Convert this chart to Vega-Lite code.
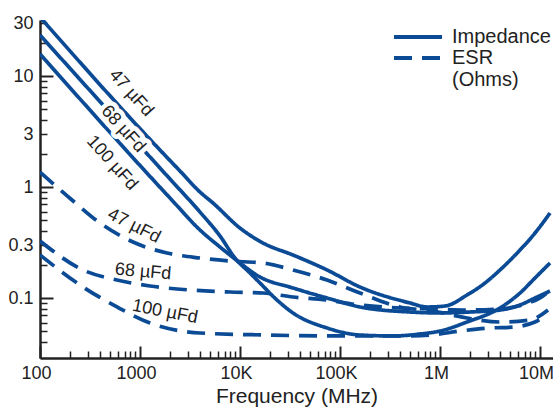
{
  "$schema": "https://vega.github.io/schema/vega-lite/v6.json",
  "width": 513,
  "height": 338,
  "autosize": {"type": "none"},
  "padding": {"left": 40, "top": 20, "right": 0, "bottom": 52},
  "background": "white",
  "config": {
    "view": {"stroke": null},
    "font": "Liberation Sans",
    "axis": {"labelFont": "Liberation Sans", "titleFont": "Liberation Sans", "grid": false},
    "legend": {"labelFont": "Liberation Sans"}
  },
  "datasets": {
    "curves": [
      {"series": "Z47", "type": "Impedance", "f": 100, "v": 34.0},
      {"series": "Z47", "type": "Impedance", "f": 1585, "v": 2.154},
      {"series": "Z47", "type": "Impedance", "f": 2512, "v": 1.394},
      {"series": "Z47", "type": "Impedance", "f": 3981, "v": 0.902},
      {"series": "Z47", "type": "Impedance", "f": 5370, "v": 0.718},
      {"series": "Z47", "type": "Impedance", "f": 10000, "v": 0.427},
      {"series": "Z47", "type": "Impedance", "f": 16982, "v": 0.313},
      {"series": "Z47", "type": "Impedance", "f": 33884, "v": 0.244},
      {"series": "Z47", "type": "Impedance", "f": 74131, "v": 0.179},
      {"series": "Z47", "type": "Impedance", "f": 158489, "v": 0.1256},
      {"series": "Z47", "type": "Impedance", "f": 501187, "v": 0.0902},
      {"series": "Z47", "type": "Impedance", "f": 741310, "v": 0.083},
      {"series": "Z47", "type": "Impedance", "f": 1122018, "v": 0.0847},
      {"series": "Z47", "type": "Impedance", "f": 1862087, "v": 0.1064},
      {"series": "Z47", "type": "Impedance", "f": 2818383, "v": 0.1365},
      {"series": "Z47", "type": "Impedance", "f": 3981072, "v": 0.179},
      {"series": "Z47", "type": "Impedance", "f": 6309573, "v": 0.2707},
      {"series": "Z47", "type": "Impedance", "f": 8912509, "v": 0.385},
      {"series": "Z47", "type": "Impedance", "f": 12589254, "v": 0.583},

      {"series": "Z68", "type": "Impedance", "f": 100, "v": 23.4},
      {"series": "Z68", "type": "Impedance", "f": 1995, "v": 1.181},
      {"series": "Z68", "type": "Impedance", "f": 3981, "v": 0.595},
      {"series": "Z68", "type": "Impedance", "f": 6310, "v": 0.362},
      {"series": "Z68", "type": "Impedance", "f": 8913, "v": 0.229},
      {"series": "Z68", "type": "Impedance", "f": 12589, "v": 0.168},
      {"series": "Z68", "type": "Impedance", "f": 15849, "v": 0.1365},
      {"series": "Z68", "type": "Impedance", "f": 23442, "v": 0.0959},
      {"series": "Z68", "type": "Impedance", "f": 33884, "v": 0.0733},
      {"series": "Z68", "type": "Impedance", "f": 74131, "v": 0.0537},
      {"series": "Z68", "type": "Impedance", "f": 158489, "v": 0.0464},
      {"series": "Z68", "type": "Impedance", "f": 338844, "v": 0.0455},
      {"series": "Z68", "type": "Impedance", "f": 630957, "v": 0.0474},
      {"series": "Z68", "type": "Impedance", "f": 1000000, "v": 0.0504},
      {"series": "Z68", "type": "Impedance", "f": 1862087, "v": 0.0608},
      {"series": "Z68", "type": "Impedance", "f": 3981072, "v": 0.0813},
      {"series": "Z68", "type": "Impedance", "f": 6309573, "v": 0.1109},
      {"series": "Z68", "type": "Impedance", "f": 8912509, "v": 0.1514},
      {"series": "Z68", "type": "Impedance", "f": 12589254, "v": 0.2067},

      {"series": "Z100", "type": "Impedance", "f": 100, "v": 15.8},
      {"series": "Z100", "type": "Impedance", "f": 1995, "v": 0.796},
      {"series": "Z100", "type": "Impedance", "f": 3981, "v": 0.41},
      {"series": "Z100", "type": "Impedance", "f": 6310, "v": 0.288},
      {"series": "Z100", "type": "Impedance", "f": 8913, "v": 0.2246},
      {"series": "Z100", "type": "Impedance", "f": 15849, "v": 0.1546},
      {"series": "Z100", "type": "Impedance", "f": 33884, "v": 0.1231},
      {"series": "Z100", "type": "Impedance", "f": 74131, "v": 0.1},
      {"series": "Z100", "type": "Impedance", "f": 158489, "v": 0.083},
      {"series": "Z100", "type": "Impedance", "f": 501187, "v": 0.0748},
      {"series": "Z100", "type": "Impedance", "f": 1000000, "v": 0.0733},
      {"series": "Z100", "type": "Impedance", "f": 1995262, "v": 0.0748},
      {"series": "Z100", "type": "Impedance", "f": 3981072, "v": 0.0779},
      {"series": "Z100", "type": "Impedance", "f": 6309573, "v": 0.0865},
      {"series": "Z100", "type": "Impedance", "f": 8912509, "v": 0.1},
      {"series": "Z100", "type": "Impedance", "f": 12589254, "v": 0.1156},

      {"series": "E47", "type": "ESR", "f": 100, "v": 1.365},
      {"series": "E47", "type": "ESR", "f": 208.9, "v": 0.764},
      {"series": "E47", "type": "ESR", "f": 398.1, "v": 0.474},
      {"series": "E47", "type": "ESR", "f": 851.1, "v": 0.3194},
      {"series": "E47", "type": "ESR", "f": 1862, "v": 0.2543},
      {"series": "E47", "type": "ESR", "f": 3981, "v": 0.2293},
      {"series": "E47", "type": "ESR", "f": 7943, "v": 0.2154},
      {"series": "E47", "type": "ESR", "f": 16982, "v": 0.2067},
      {"series": "E47", "type": "ESR", "f": 33884, "v": 0.1788},
      {"series": "E47", "type": "ESR", "f": 74131, "v": 0.1453},
      {"series": "E47", "type": "ESR", "f": 158489, "v": 0.1109},
      {"series": "E47", "type": "ESR", "f": 398107, "v": 0.083},
      {"series": "E47", "type": "ESR", "f": 851138, "v": 0.0764},
      {"series": "E47", "type": "ESR", "f": 1862087, "v": 0.066},
      {"series": "E47", "type": "ESR", "f": 3981072, "v": 0.0608},
      {"series": "E47", "type": "ESR", "f": 7943282, "v": 0.0633},
      {"series": "E47", "type": "ESR", "f": 12022644, "v": 0.0779},

      {"series": "E68", "type": "ESR", "f": 100, "v": 0.326},
      {"series": "E68", "type": "ESR", "f": 269.2, "v": 0.1788},
      {"series": "E68", "type": "ESR", "f": 588.8, "v": 0.1453},
      {"series": "E68", "type": "ESR", "f": 1258.9, "v": 0.1283},
      {"series": "E68", "type": "ESR", "f": 3162, "v": 0.1181},
      {"series": "E68", "type": "ESR", "f": 7943, "v": 0.1133},
      {"series": "E68", "type": "ESR", "f": 16982, "v": 0.1109},
      {"series": "E68", "type": "ESR", "f": 33884, "v": 0.1021},
      {"series": "E68", "type": "ESR", "f": 74131, "v": 0.0959},
      {"series": "E68", "type": "ESR", "f": 158489, "v": 0.0865},
      {"series": "E68", "type": "ESR", "f": 398107, "v": 0.0813},
      {"series": "E68", "type": "ESR", "f": 851138, "v": 0.0796},
      {"series": "E68", "type": "ESR", "f": 1862087, "v": 0.0779},
      {"series": "E68", "type": "ESR", "f": 3981072, "v": 0.0796},
      {"series": "E68", "type": "ESR", "f": 7079458, "v": 0.0883},
      {"series": "E68", "type": "ESR", "f": 10000000, "v": 0.1},
      {"series": "E68", "type": "ESR", "f": 12022644, "v": 0.1133},

      {"series": "E100", "type": "ESR", "f": 100, "v": 0.244},
      {"series": "E100", "type": "ESR", "f": 269.2, "v": 0.1256},
      {"series": "E100", "type": "ESR", "f": 588.8, "v": 0.083},
      {"series": "E100", "type": "ESR", "f": 1258.9, "v": 0.0595},
      {"series": "E100", "type": "ESR", "f": 3981, "v": 0.0484},
      {"series": "E100", "type": "ESR", "f": 18621, "v": 0.0464},
      {"series": "E100", "type": "ESR", "f": 85114, "v": 0.0455},
      {"series": "E100", "type": "ESR", "f": 398107, "v": 0.0455},
      {"series": "E100", "type": "ESR", "f": 794328, "v": 0.0464},
      {"series": "E100", "type": "ESR", "f": 1584893, "v": 0.0504},
      {"series": "E100", "type": "ESR", "f": 3162278, "v": 0.0537},
      {"series": "E100", "type": "ESR", "f": 5623413, "v": 0.0548},
      {"series": "E100", "type": "ESR", "f": 8912509, "v": 0.0608},
      {"series": "E100", "type": "ESR", "f": 12022644, "v": 0.0703}
    ],
    "labels": [
      {"type": "Impedance", "text": "47 µFd", "f": 813, "v": 7.03},
      {"type": "Impedance", "text": "68 µFd", "f": 676, "v": 3.33},
      {"type": "Impedance", "text": "100 µFd", "f": 525, "v": 1.645},
      {"type": "ESR", "text": "47 µFd", "f": 871, "v": 0.445},
      {"type": "ESR", "text": "68 µFd", "f": 1072, "v": 0.1715},
      {"type": "ESR", "text": "100 µFd", "f": 1778, "v": 0.0748}
    ]
  },
  "resolve": {"axis": {"x": "independent", "y": "independent"}},
  "layer": [
    {
      "data": {"name": "curves"},
      "mark": {"type": "line", "clip": true, "strokeWidth": 3.7, "color": "#0b4a95", "strokeCap": "butt", "interpolate": "monotone"},
      "encoding": {
        "x": {
          "field": "f", "type": "quantitative",
          "scale": {"type": "log", "domain": [100, 13490000]},
          "axis": {
            "orient": "bottom",
            "values": [100, 1000, 10000, 100000, 1000000, 10000000],
            "labelExpr": "datum.value == 100 ? '100' : datum.value == 1000 ? '1000' : datum.value == 10000 ? '10K' : datum.value == 100000 ? '100K' : datum.value == 1000000 ? '1M' : '10M'",
            "ticks": false,
            "labelFlush": false,
            "labelOverlap": false,
            "labelFontSize": 18,
            "labelColor": "#222",
            "labelPadding": 6,
            "labelOffset": -4,
            "domainColor": "#222",
            "domainWidth": 2.5,
            "title": "Frequency (MHz)",
            "titleFontSize": 21,
            "titleFontWeight": "normal",
            "titleColor": "#222",
            "titlePadding": 3
          }
        },
        "y": {
          "field": "v", "type": "quantitative",
          "scale": {"type": "log", "domain": [0.0288, 32]},
          "axis": {
            "orient": "left",
            "values": [0.1, 0.3, 1, 3, 10, 30],
            "labelExpr": "datum.value + ''",
            "ticks": false,
            "labelFlush": false,
            "labelOverlap": false,
            "labelFontSize": 18,
            "labelColor": "#222",
            "labelPadding": 7,
            "domainColor": "#222",
            "domainWidth": 2.5,
            "title": null
          }
        },
        "detail": {"field": "series"},
        "strokeDash": {
          "field": "type", "type": "nominal",
          "scale": {"domain": ["Impedance", "ESR"], "range": [[1, 0], [18, 10]]},
          "legend": {
            "orient": "none",
            "legendX": 352,
            "legendY": 7.5,
            "title": null,
            "padding": 0,
            "rowPadding": 0,
            "symbolType": "stroke",
            "symbolSize": 2304,
            "symbolStrokeWidth": 4,
            "symbolStrokeColor": "#0b4a95",
            "clipHeight": 19,
            "labelFontSize": 20,
            "labelColor": "#222",
            "labelOffset": 8,
            "labelLimit": 0,
            "labelExpr": "datum.label == 'ESR' ? ['ESR', '(Ohms)'] : datum.label"
          }
        }
      }
    },
    {
      "data": {"name": "labels"},
      "transform": [{"filter": "datum.type == 'Impedance' && datum.text == '68 µFd'"}],
      "mark": {"type": "text", "font": "Liberation Sans", "fontSize": 18, "angle": 48, "fill": "white", "stroke": "white", "strokeWidth": 9, "strokeJoin": "round", "align": "center", "baseline": "middle"},
      "encoding": {
        "x": {
          "field": "f", "type": "quantitative",
          "scale": {"type": "log", "domain": [100, 13490000]},
          "axis": {
            "orient": "bottom",
            "values": [200, 300, 400, 500, 600, 700, 800, 900, 2000, 3000, 4000, 5000, 6000, 7000, 8000, 9000, 20000, 30000, 40000, 50000, 60000, 70000, 80000, 90000, 200000, 300000, 400000, 500000, 600000, 700000, 800000, 900000, 2000000, 3000000, 4000000, 5000000, 6000000, 7000000, 8000000, 9000000],
            "labels": false, "domain": false, "ticks": true,
            "tickSize": -7, "tickWidth": 1.5, "tickColor": "#222", "title": null
          }
        },
        "y": {
          "field": "v", "type": "quantitative",
          "scale": {"type": "log", "domain": [0.0288, 32]},
          "axis": {
            "orient": "left",
            "values": [0.04, 0.05, 0.06, 0.07, 0.08, 0.09, 0.2, 0.3, 0.4, 0.5, 0.6, 0.7, 0.8, 0.9, 2, 3, 4, 5, 6, 7, 8, 9, 20, 30],
            "labels": false, "domain": false, "ticks": true,
            "tickSize": -7, "tickWidth": 1.5, "tickColor": "#222", "title": null
          }
        },
        "text": {"field": "text"}
      }
    },
    {
      "data": {"name": "labels"},
      "mark": {
        "type": "text", "font": "Liberation Sans", "fontSize": 18, "color": "#222",
        "align": "center", "baseline": "middle",
        "angle": {"expr": "datum.type == 'Impedance' ? 48 : datum.text == '47 µFd' ? 27 : datum.text == '68 µFd' ? 5 : 11"}
      },
      "encoding": {
        "x": {
          "field": "f", "type": "quantitative",
          "scale": {"type": "log", "domain": [100, 13490000]},
          "axis": {
            "orient": "bottom",
            "values": [100, 1000, 10000, 100000, 1000000, 10000000],
            "labels": false, "domain": false, "ticks": true,
            "tickSize": -12, "tickWidth": 2, "tickColor": "#222", "title": null
          }
        },
        "y": {
          "field": "v", "type": "quantitative",
          "scale": {"type": "log", "domain": [0.0288, 32]},
          "axis": {
            "orient": "left",
            "values": [0.1, 1, 10],
            "labels": false, "domain": false, "ticks": true,
            "tickSize": -13, "tickWidth": 2, "tickColor": "#222", "title": null
          }
        },
        "text": {"field": "text"}
      }
    }
  ]
}
